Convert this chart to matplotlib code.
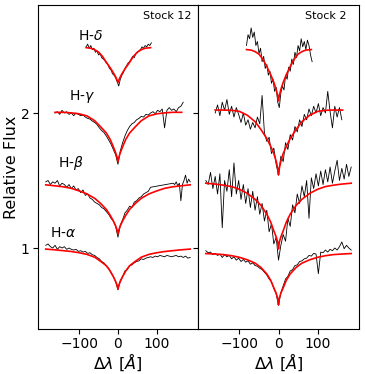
import numpy as np
import matplotlib.pyplot as plt

# ---- Stock 12 (left panel) observed spectra ----
s12_ha = [1.02, 1.03, 1.01, 1.00, 1.02, 0.99, 1.01, 1.00, 1.01, 0.99, 1.00, 0.99,
          0.985, 0.99, 0.975, 0.98, 0.97, 0.975, 0.96, 0.965, 0.95, 0.945,
          0.93, 0.92, 0.90, 0.89, 0.865, 0.85, 0.815, 0.79, 0.75, 0.69,
          0.76, 0.79, 0.83, 0.84, 0.87, 0.875, 0.89, 0.90, 0.905, 0.92,
          0.915, 0.925, 0.93, 0.935, 0.93, 0.94, 0.935, 0.945, 0.94, 0.935,
          0.945, 0.94, 0.935, 0.94, 0.945, 0.935, 0.94, 0.93, 0.94, 0.925, 0.93]
s12_hb_a = [1.49, 1.50, 1.47, 1.49, 1.48, 1.50, 1.46, 1.48, 1.47, 1.45, 1.47, 1.44,
            1.46, 1.43, 1.44, 1.41, 1.43, 1.39, 1.40, 1.37, 1.36, 1.34,
            1.33, 1.32, 1.30, 1.29, 1.27, 1.25, 1.22, 1.20, 1.16, 1.08,
            1.17, 1.21, 1.26, 1.28, 1.31, 1.30, 1.34, 1.35, 1.37, 1.38,
            1.40, 1.41, 1.42, 1.45]
s12_hb_b = [1.48, 1.47, 1.49, 1.46, 1.48, 1.35, 1.47, 1.50, 1.54, 1.48, 1.51, 1.49]
s12_hg = [2.00, 2.01, 1.99, 2.02, 2.00, 2.01, 1.99, 2.00, 1.98, 2.00,
          1.99, 1.98, 1.985, 1.97, 1.96, 1.955, 1.94, 1.93, 1.915, 1.89,
          1.87, 1.855, 1.83, 1.80, 1.77, 1.73, 1.69, 1.62,
          1.72, 1.78, 1.83, 1.87, 1.90, 1.92, 1.93, 1.95, 1.96, 1.975,
          1.97, 1.99, 1.985, 2.00, 2.01, 1.995, 2.02, 2.01, 2.03, 1.89,
          2.02, 2.04, 2.02, 2.03, 2.01, 2.04, 2.05, 2.08]
s12_hd = [2.49, 2.51, 2.48, 2.50, 2.47, 2.48, 2.45, 2.46, 2.43, 2.44,
          2.41, 2.40, 2.39, 2.37, 2.36, 2.33, 2.32, 2.29, 2.28, 2.26, 2.23,
          2.20, 2.25, 2.28, 2.30, 2.33, 2.35, 2.37, 2.38, 2.40, 2.42,
          2.41, 2.44, 2.45, 2.46, 2.47, 2.49, 2.48, 2.50, 2.49, 2.51, 2.50, 2.52]

# ---- Stock 2 (right panel) observed spectra ----
s2_ha = [0.98, 0.965, 0.97, 0.95, 0.96, 0.945, 0.955, 0.93, 0.95, 0.935,
         0.945, 0.92, 0.935, 0.91, 0.925, 0.90, 0.915, 0.895, 0.905, 0.88,
         0.89, 0.87, 0.865, 0.85, 0.84, 0.82, 0.80, 0.77, 0.75, 0.70, 0.66, 0.575,
         0.67, 0.72, 0.77, 0.79, 0.83, 0.84, 0.87, 0.875, 0.90, 0.905,
         0.92, 0.925, 0.945, 0.94, 0.96, 0.955, 0.81, 0.97, 0.965, 0.985,
         0.97, 0.99, 0.98, 1.00, 0.985, 1.01, 1.045, 0.995, 1.02, 1.00, 0.985]
s2_hb = [1.50, 1.47, 1.56, 1.44, 1.53, 1.40, 1.55, 1.15, 1.50, 1.42,
         1.58, 1.38, 1.63, 1.40, 1.50, 1.36, 1.47, 1.33, 1.44, 1.30,
         1.42, 1.28, 1.38, 1.25, 1.33, 1.20, 1.28, 1.12, 1.18, 1.03, 1.08, 0.91,
         1.02, 1.10, 1.05, 1.22, 1.16, 1.32, 1.26, 1.40, 1.33, 1.46,
         1.38, 1.50, 1.22, 1.52, 1.44, 1.55, 1.46, 1.57, 1.47, 1.58,
         1.49, 1.60, 1.48, 1.57, 1.65, 1.50, 1.59, 1.51, 1.62, 1.53, 1.60]
s2_hg = [2.00, 2.06, 1.98, 2.08, 2.02, 2.10, 1.99, 2.05, 1.97, 2.04,
         1.99, 1.93, 2.00, 1.91, 1.95, 1.88, 1.93, 1.89, 1.97, 1.92,
         2.13, 1.85, 1.79, 1.82, 1.70, 1.74, 1.62, 1.54,
         1.68, 1.64, 1.78, 1.73, 1.84, 1.80, 1.90, 1.86, 1.95, 1.90,
         1.99, 1.95, 2.03, 1.98, 2.05, 2.00, 2.07, 1.98, 2.04, 2.00,
         2.16, 2.01, 1.89, 2.05, 1.97, 2.04, 1.95]
s2_hd = [2.50, 2.58, 2.55, 2.63, 2.56, 2.60, 2.50, 2.53, 2.44, 2.48,
         2.38, 2.42, 2.33, 2.36, 2.28, 2.31, 2.22, 2.25, 2.16, 2.19, 2.08,
         2.04, 2.15, 2.20, 2.17, 2.28, 2.25, 2.34, 2.31, 2.40, 2.36,
         2.45, 2.41, 2.50, 2.46, 2.55, 2.49, 2.53, 2.47, 2.54, 2.50, 2.43, 2.38]

# ---- model fits ----
x_fit_ab = [-186, -160, -140, -120, -100, -80, -60, -45, -30, -20, -12, -6, -2, 0,
            2, 6, 12, 20, 30, 45, 60, 80, 100, 120, 140, 160, 186]
x_fit_g = [-162, -140, -120, -100, -80, -60, -45, -30, -20, -12, -6, -2, 0,
           2, 6, 12, 20, 30, 45, 60, 80, 100, 120, 140, 164]
x_fit_d = [-82, -70, -60, -50, -40, -30, -20, -12, -6, -2, 0,
           2, 6, 12, 20, 30, 40, 50, 60, 70, 84]

fit12_ha = [0.992, 0.986, 0.98, 0.974, 0.965, 0.953, 0.932, 0.902, 0.869, 0.83, 0.788, 0.752, 0.722, 0.695,
            0.722, 0.752, 0.788, 0.83, 0.869, 0.902, 0.932, 0.953, 0.965, 0.974, 0.98, 0.986, 0.992]
fit12_hb = [1.468, 1.46, 1.453, 1.442, 1.423, 1.401, 1.368, 1.331, 1.286, 1.242, 1.201, 1.164, 1.131, 1.105,
            1.131, 1.164, 1.201, 1.242, 1.286, 1.331, 1.368, 1.401, 1.423, 1.442, 1.453, 1.46, 1.468]
fit12_hg = [2.005, 2.005, 2.001, 1.994, 1.979, 1.943, 1.899, 1.852, 1.804, 1.75, 1.706, 1.669, 1.64,
            1.669, 1.706, 1.75, 1.804, 1.852, 1.899, 1.943, 1.979, 1.994, 2.001, 2.005, 2.005]
fit12_hd = [2.484, 2.48, 2.469, 2.451, 2.42, 2.376, 2.335, 2.299, 2.268, 2.242, 2.227,
            2.242, 2.268, 2.299, 2.335, 2.376, 2.42, 2.451, 2.469, 2.48, 2.484]

fit2_ha = [0.959, 0.955, 0.951, 0.943, 0.931, 0.913, 0.888, 0.856, 0.808, 0.761, 0.705, 0.665, 0.626, 0.578,
           0.626, 0.665, 0.705, 0.761, 0.808, 0.856, 0.888, 0.913, 0.931, 0.943, 0.951, 0.955, 0.959]
fit2_hb = [1.48, 1.473, 1.465, 1.455, 1.435, 1.405, 1.361, 1.316, 1.251, 1.192, 1.127, 1.082, 1.043, 0.993,
           1.043, 1.082, 1.127, 1.192, 1.251, 1.316, 1.361, 1.405, 1.435, 1.455, 1.465, 1.473, 1.48]
fit2_hg = [2.022, 2.022, 2.02, 2.012, 1.984, 1.936, 1.878, 1.811, 1.753, 1.70, 1.643, 1.59, 1.542,
           1.59, 1.643, 1.70, 1.753, 1.811, 1.878, 1.936, 1.984, 2.012, 2.02, 2.022, 2.022]
fit2_hd = [2.47, 2.466, 2.455, 2.436, 2.398, 2.345, 2.284, 2.227, 2.174, 2.128, 2.09,
           2.128, 2.174, 2.227, 2.284, 2.345, 2.398, 2.436, 2.455, 2.466, 2.47]

line_names = [r'H-$\alpha$', r'H-$\beta$', r'H-$\gamma$', r'H-$\delta$']
label_pos = [(-175, 1.113), (-155, 1.633), (-127, 2.121), (-104, 2.572)]


def grid(x0, x1, y):
    return np.linspace(x0, x1, len(y))


fig = plt.figure(figsize=(3.65, 3.74), dpi=100)
ax1 = fig.add_axes([0.104, 0.1203, 0.4384, 0.8663])
ax2 = fig.add_axes([0.5425, 0.1203, 0.4411, 0.8663], sharey=ax1)

lw_obs = 0.6
lw_fit = 1.2

# left panel
ax1.plot(grid(-186, 186, s12_ha), s12_ha, color='k', lw=lw_obs)
xb = np.concatenate([grid(-186, 84, s12_hb_a), grid(142, 186, s12_hb_b)])
ax1.plot(xb, s12_hb_a + s12_hb_b, color='k', lw=lw_obs)
ax1.plot(grid(-162, 168, s12_hg), s12_hg, color='k', lw=lw_obs)
ax1.plot(grid(-82, 86, s12_hd), s12_hd, color='k', lw=lw_obs)
ax1.plot(x_fit_ab, fit12_ha, color='red', lw=lw_fit)
ax1.plot(x_fit_ab, fit12_hb, color='red', lw=lw_fit)
ax1.plot(x_fit_g, fit12_hg, color='red', lw=lw_fit)
ax1.plot(x_fit_d, fit12_hd, color='red', lw=lw_fit)

for name, (lx, ly) in zip(line_names, label_pos):
    ax1.text(lx, ly, name, fontsize=10, ha='left', va='center')

# right panel
ax2.plot(grid(-186, 186, s2_ha), s2_ha, color='k', lw=lw_obs)
ax2.plot(grid(-186, 186, s2_hb), s2_hb, color='k', lw=lw_obs)
ax2.plot(grid(-162, 162, s2_hg), s2_hg, color='k', lw=lw_obs)
ax2.plot(grid(-82, 86, s2_hd), s2_hd, color='k', lw=lw_obs)
ax2.plot(x_fit_ab, fit2_ha, color='red', lw=lw_fit)
ax2.plot(x_fit_ab, fit2_hb, color='red', lw=lw_fit)
ax2.plot(x_fit_g, fit2_hg, color='red', lw=lw_fit)
ax2.plot(x_fit_d, fit2_hd, color='red', lw=lw_fit)

ax1.text(0.656, 0.982, 'Stock 12', transform=ax1.transAxes, fontsize=8, ha='left', va='top')
ax2.text(0.665, 0.982, 'Stock 2', transform=ax2.transAxes, fontsize=8, ha='left', va='top')

for ax in (ax1, ax2):
    ax.set_xlim(-206, 206)
    ax.set_xticks([-100, 0, 100])
    ax.tick_params(labelsize=10, pad=2.5)
    ax.set_xlabel(r'$\Delta\lambda\ [\AA]$', fontsize=11.5, labelpad=0)
ax1.set_ylim(0.4, 2.8)
ax1.set_yticks([1, 2])
ax1.set_ylabel('Relative Flux', fontsize=11.5, labelpad=1)
ax2.tick_params(labelleft=False)

fig.savefig('out.png', dpi=100)
